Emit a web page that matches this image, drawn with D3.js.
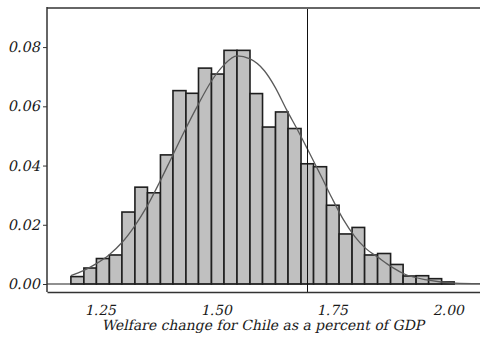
<!DOCTYPE html>
<html>
<head>
<meta charset="utf-8">
<script src="https://cdn.jsdelivr.net/npm/d3@7"></script>
<style>
  body { margin: 0; background: #fff; }
  svg { display: block; }
  text { font-family: "DejaVu Serif", serif; fill: #1a1a1a; }
</style>
</head>
<body>
<div id="chart"></div>
<script>
// histogram bin edges (welfare change, % of GDP)
var binEdges = [1.183, 1.211, 1.238, 1.266, 1.293, 1.321, 1.348, 1.376, 1.403, 1.431,
  1.458, 1.486, 1.513, 1.541, 1.569, 1.596, 1.624, 1.651, 1.679, 1.706,
  1.734, 1.761, 1.789, 1.816, 1.844, 1.872, 1.899, 1.927, 1.954, 1.982, 2.009];
// share of draws in each bin
var binShares = [0.0025, 0.0054, 0.0086, 0.0098, 0.0243, 0.0327, 0.0308, 0.0436, 0.0653, 0.0644,
  0.0729, 0.0709, 0.0789, 0.0789, 0.0643, 0.0530, 0.0581, 0.0525, 0.0406, 0.0396,
  0.0266, 0.0169, 0.0191, 0.0098, 0.0103, 0.0066, 0.0027, 0.0028, 0.0018, 0.0007];
// smoothed density
var curveX = [1.183, 1.21, 1.237, 1.265, 1.293, 1.32, 1.347, 1.373, 1.401, 1.429,
  1.457, 1.485, 1.513, 1.541, 1.569, 1.60, 1.623, 1.648, 1.673, 1.695,
  1.723, 1.745, 1.77, 1.795, 1.817, 1.845, 1.874, 1.903, 1.953, 2.011, 2.065];
var curveY = [0.0028, 0.0045, 0.0068, 0.0098, 0.0140, 0.0195, 0.0262, 0.0340, 0.0430, 0.0520,
  0.0605, 0.0683, 0.0740, 0.0770, 0.0760, 0.0720, 0.0665, 0.0588, 0.0516, 0.0449,
  0.0362, 0.0292, 0.0218, 0.0160, 0.0122, 0.0090, 0.0058, 0.0033, 0.0013, 0.0003, 0.0001];
var actualValue = 1.694;
var xTicks = [1.25, 1.50, 1.75, 2.00];
var yTicks = [0, 0.02, 0.04, 0.06, 0.08];
var xLabel = "Welfare change for Chile as a percent of GDP";

var width = 480;
var height = 338;
var margin = {top: 8, right: 0, bottom: 46, left: 47};
var fontSize = 14;
var slant = "skewX(-12)";  // no italic face for the serif, so lean it by hand

var x = d3.scaleLinear()
  .domain([1.1315, 2.0647])
  .range([margin.left, width - margin.right]);

var y = d3.scaleLinear()
  .domain([-0.0027, 0.0932])
  .range([height - margin.bottom, margin.top]);

var svg = d3.select("#chart")
  .append("svg")
  .attr("width", width)
  .attr("height", height)
  .attr("viewBox", [0, 0, width, height]);

var bins = binShares.map(function(v, i) {
  return {x0: binEdges[i], x1: binEdges[i + 1], v: v};
});

svg.append("g")
  .selectAll("rect")
  .data(bins)
  .join("rect")
  .attr("x", d => x(d.x0))
  .attr("y", d => y(d.v))
  .attr("width", d => x(d.x1) - x(d.x0))
  .attr("height", d => y(0) - y(d.v))
  .attr("fill", "#c0c0c0")
  .attr("stroke", "#1e1e1e")
  .attr("stroke-width", 1.6);

// zero line
svg.append("line")
  .attr("x1", margin.left)
  .attr("x2", width)
  .attr("y1", y(0))
  .attr("y2", y(0))
  .attr("stroke", "#222")
  .attr("stroke-width", 1.2);

var line = d3.line()
  .x((d, i) => x(curveX[i]))
  .y(d => y(d))
  .curve(d3.curveMonotoneX);

svg.append("path")
  .datum(curveY)
  .attr("fill", "none")
  .attr("stroke", "#5a5a5a")
  .attr("stroke-width", 1.3)
  .attr("d", line);

// actual welfare change
svg.append("line")
  .attr("x1", x(actualValue))
  .attr("x2", x(actualValue))
  .attr("y1", margin.top)
  .attr("y2", height - margin.bottom)
  .attr("stroke", "#111")
  .attr("stroke-width", 1)
  .attr("shape-rendering", "crispEdges");

// top edge of the frame
svg.append("line")
  .attr("x1", margin.left)
  .attr("x2", width)
  .attr("y1", margin.top)
  .attr("y2", margin.top)
  .attr("stroke", "#666")
  .attr("stroke-width", 2);

var xAxis = g => g
  .attr("transform", `translate(0,${height - margin.bottom})`)
  .call(d3.axisBottom(x).tickValues(xTicks).tickFormat(d3.format(".2f")).tickSize(0))
  .call(g => g.select(".domain").attr("stroke", "#333").attr("stroke-width", 1.5))
  .call(g => g.selectAll("text")
    .attr("font-size", fontSize)
    .attr("font-family", null)
    .attr("y", 0)
    .attr("dy", "0.71em")
    .attr("transform", "translate(0,13) " + slant));

var yAxis = g => g
  .attr("transform", `translate(${margin.left},0)`)
  .call(d3.axisLeft(y).tickValues(yTicks).tickFormat(d3.format(".2f")).tickSize(4).tickPadding(2))
  .call(g => g.select(".domain").remove())
  .call(g => g.selectAll(".tick line").attr("stroke", "#333"))
  .call(g => g.selectAll("text")
    .attr("font-size", fontSize + 0.5)
    .attr("font-family", null)
    .attr("transform", slant));

svg.append("g").call(xAxis);
svg.append("g").call(yAxis);

svg.append("line")
  .attr("x1", margin.left)
  .attr("x2", margin.left)
  .attr("y1", margin.top - 1)
  .attr("y2", height - margin.bottom)
  .attr("stroke", "#333")
  .attr("stroke-width", 1.5);

svg.append("text")
  .attr("transform", "translate(263,330) " + slant)
  .attr("text-anchor", "middle")
  .attr("font-size", fontSize)
  .text(xLabel);
</script>
</body>
</html>
